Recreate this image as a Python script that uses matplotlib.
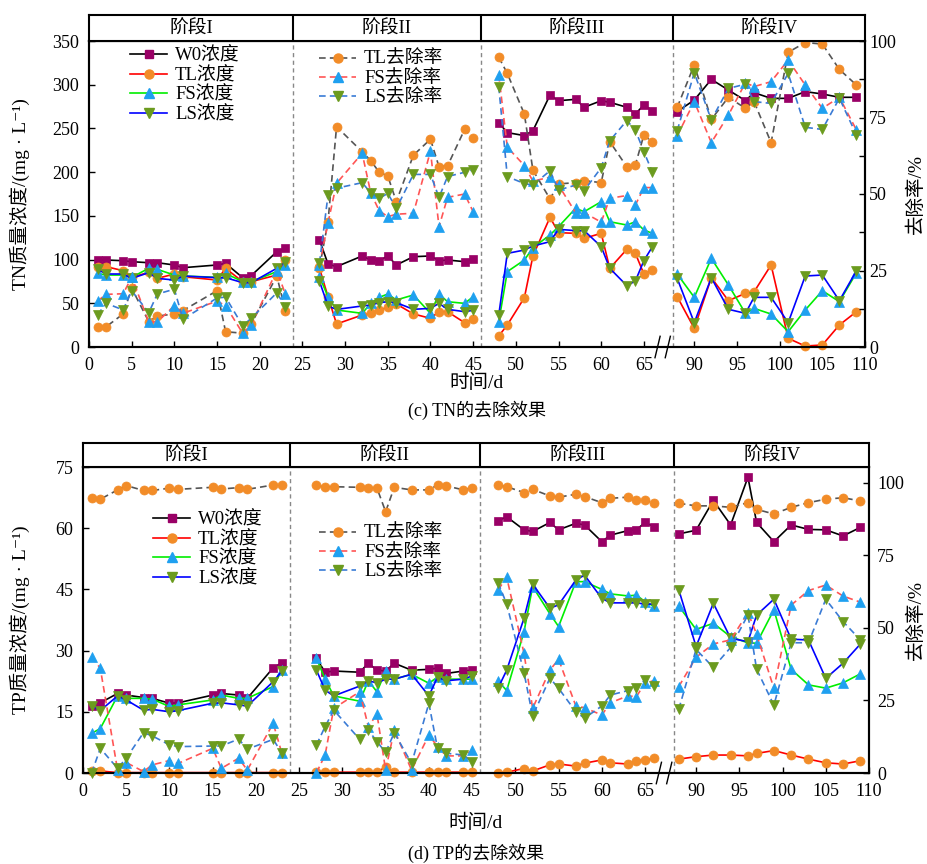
import matplotlib.pyplot as plt
from matplotlib.lines import Line2D
from matplotlib.ticker import MultipleLocator

plt.rcParams['font.family'] = ['Liberation Serif', 'Noto Sans CJK SC', 'DejaVu Sans']

# sampling days, four stages (14, 14, 14, 12 samples)
days = [1, 2, 4, 5, 7, 8, 10, 11, 15, 16, 18, 19, 22, 23,
        27, 28, 29, 32, 33, 34, 35, 36, 38, 40, 41, 42, 44, 45,
        48, 49, 51, 52, 54, 55, 57, 58, 60, 61, 63, 64, 65, 66,
        88, 90, 92, 94, 96, 97, 99, 101, 103, 105, 107, 109]
stage_sizes = [14, 14, 14, 12]
stage_names = ['阶段I', '阶段II', '阶段III', '阶段IV']
stage_edges = [23.9, 45.9, 87.5]
tick_days = list(range(0, 70, 5)) + list(range(90, 115, 5))

# ---- TN (mg/L) and removal (%) ----
tn_w0 = [99.5, 99.5, 98.7, 97.6, 96.4, 96.4, 93.8, 90.7, 93.8, 95.7, 79.3, 81.6, 109.0, 112.9,
         122.4, 94.9, 91.9, 104.1, 99.5, 98.7, 104.1, 93.8, 103.3, 104.1, 98.7, 99.5, 97.6, 100.6,
         256.6, 245.2, 241.8, 247.4, 288.2, 281.7, 283.3, 274.2, 281.7, 279.9, 274.2, 266.6, 276.8, 270.3,
         269.2, 282.5, 306.1, 293.9, 281.8, 290.9, 284.4, 284.4, 292.1, 289.4, 285.6, 285.6]
tn_tl = [91.9, 91.9, 87.3, 79.7, 85.4, 78.5, 83.5, 80.4, 76.6, 90.0, 74.7, 74.7, 82.3, 99.5,
         90.0, 57.5, 26.3, 36.6, 38.5, 42.3, 45.4, 49.2, 37.8, 32.8, 40.4, 40.4, 27.8, 31.6,
         12.6, 25.2, 56.4, 104.1, 148.3, 130.8, 130.0, 124.3, 130.0, 90.0, 111.7, 107.1, 83.5, 88.1,
         57.6, 21.3, 79.3, 53.0, 61.4, 63.0, 93.8, 9.9, 1.1, 2.3, 25.2, 40.4]
tn_fs = [84.2, 82.3, 82.3, 79.7, 90.0, 88.8, 82.3, 81.2, 79.7, 84.2, 74.7, 74.7, 86.2, 93.8,
         80.4, 57.5, 42.3, 38.5, 49.9, 56.8, 60.6, 53.8, 59.5, 38.5, 60.6, 51.8, 49.9, 57.5,
         29.0, 86.2, 99.5, 113.6, 128.1, 137.6, 158.6, 154.8, 166.2, 143.3, 139.5, 143.3, 133.8, 130.0,
         83.5, 56.8, 101.4, 70.9, 38.5, 44.2, 37.7, 17.5, 42.3, 64.4, 51.8, 85.0]
tn_ls = [88.8, 83.5, 83.5, 78.5, 85.0, 78.5, 76.6, 81.2, 79.3, 79.3, 73.6, 73.6, 90.0, 97.6,
         75.0, 46.9, 43.0, 46.9, 48.0, 50.7, 51.8, 50.7, 43.1, 44.2, 49.9, 43.1, 40.4, 42.0,
         36.6, 107.1, 110.9, 115.5, 120.5, 134.6, 133.1, 133.1, 114.8, 90.0, 70.2, 75.5, 98.8, 114.8,
         78.5, 27.8, 79.3, 43.1, 38.5, 56.8, 56.8, 27.8, 81.2, 82.3, 53.0, 87.3]
tn_tl_rm = [6.6, 6.6, 10.8, 19.2, 8.3, 10.1, 10.8, 11.9, 18.4, 5.0, 4.5, 7.5, 23.2, 11.9,
            26.0, 41.0, 72.0, 63.8, 60.9, 57.1, 55.9, 47.5, 62.7, 67.9, 58.9, 59.2, 71.1, 68.2,
            94.7, 89.4, 76.1, 57.8, 48.4, 53.3, 53.7, 54.4, 53.7, 67.1, 58.9, 59.5, 69.3, 66.9,
            78.3, 92.2, 74.4, 81.6, 78.0, 80.2, 66.8, 96.3, 99.5, 99.0, 90.7, 85.6]
tn_fs_rm = [15.0, 17.2, 17.4, 22.8, 8.2, 8.2, 13.5, 11.0, 15.0, 13.5, 4.5, 7.2, 25.0, 17.3,
            26.8, 40.6, 53.5, 63.3, 50.4, 44.5, 42.6, 43.4, 43.7, 64.0, 39.3, 48.9, 50.0, 44.2,
            88.9, 65.3, 59.3, 54.2, 55.5, 52.9, 43.9, 43.9, 40.8, 48.6, 49.5, 46.4, 52.1, 52.1,
            69.0, 80.2, 66.8, 75.8, 86.4, 85.1, 86.7, 93.8, 85.6, 78.0, 81.6, 70.9]
tn_ls_rm = [10.5, 14.3, 12.1, 18.4, 11.2, 17.3, 18.9, 9.1, 16.0, 16.3, 6.9, 9.4, 17.7, 13.2,
            27.5, 49.7, 51.9, 53.7, 50.4, 48.6, 50.2, 45.3, 56.4, 56.4, 48.9, 55.7, 57.1, 57.9,
            85.1, 55.7, 53.4, 52.9, 57.6, 51.3, 52.9, 51.1, 58.6, 67.4, 74.0, 70.9, 63.8, 57.1,
            70.7, 89.6, 74.2, 84.5, 85.9, 80.2, 79.6, 89.4, 71.8, 71.1, 81.3, 69.3]

# ---- TP (mg/L) and removal (%) ----
tp_w0 = [16.5, 17.2, 19.5, 19.1, 18.5, 18.3, 17.1, 17.2, 19.1, 19.5, 19.1, 18.3, 25.8, 27.0,
         28.1, 24.7, 25.0, 24.7, 26.9, 25.2, 25.0, 26.9, 25.2, 25.4, 25.7, 24.4, 25.0, 25.2,
         61.8, 62.8, 59.6, 59.2, 61.4, 59.6, 61.2, 60.8, 56.7, 58.3, 59.4, 59.6, 61.4, 60.4,
         58.6, 59.5, 66.8, 60.8, 72.5, 61.4, 56.7, 60.8, 59.7, 59.6, 58.1, 60.2]
tp_tl = [0.4, 0.5, 0.1, 0.1, 0.1, 0.1, 0.1, 0.1, 0.1, 0.1, 0.1, 0.1, 0.1, 0.1,
         0.2, 0.2, 0.2, 0.2, 0.2, 0.2, 1.5, 0.2, 0.2, 0.2, 0.2, 0.2, 0.2, 0.2,
         0.0, 0.2, 1.1, 0.5, 2.0, 2.2, 1.7, 2.4, 3.2, 2.5, 2.2, 3.0, 3.2, 3.6,
         3.4, 4.0, 4.4, 4.4, 4.2, 4.8, 5.5, 4.4, 3.4, 2.5, 2.2, 3.0]
tp_fs = [9.7, 10.9, 18.9, 18.3, 18.3, 18.1, 16.3, 16.7, 17.9, 19.1, 18.3, 18.3, 21.2, 25.2,
         28.1, 23.0, 18.9, 17.6, 22.6, 19.9, 25.0, 23.0, 24.2, 22.0, 23.5, 23.0, 23.0, 23.0,
         22.6, 20.2, 34.6, 45.7, 39.0, 35.9, 46.9, 46.9, 45.0, 43.9, 43.4, 43.6, 42.0, 40.9,
         40.9, 35.2, 36.7, 33.4, 31.9, 31.8, 40.0, 25.4, 21.6, 20.8, 22.1, 24.3]
tp_ls = [16.5, 15.3, 18.9, 17.9, 15.4, 15.6, 15.0, 15.3, 17.1, 17.2, 16.7, 16.4, 22.4, 25.0,
         25.2, 20.3, 18.9, 21.3, 22.6, 22.1, 23.0, 23.0, 24.2, 18.9, 23.5, 22.6, 23.0, 23.8,
         20.8, 25.2, 37.9, 46.3, 40.4, 41.2, 47.3, 48.5, 42.8, 41.7, 41.7, 41.7, 41.4, 41.4,
         44.9, 31.0, 41.6, 33.0, 32.2, 38.7, 42.6, 32.8, 32.6, 23.2, 26.9, 31.6]
tp_tl_rm = [94.7, 94.4, 97.6, 99.1, 97.4, 97.4, 98.2, 97.8, 98.5, 97.9, 98.4, 97.8, 99.3, 99.3,
            99.3, 98.5, 98.7, 98.5, 98.2, 98.2, 90.1, 98.5, 97.6, 97.6, 99.3, 99.0, 97.6, 98.4,
            99.3, 98.7, 96.7, 97.8, 95.5, 95.1, 96.1, 95.3, 93.2, 94.7, 95.1, 94.1, 94.1, 93.0,
            93.0, 92.1, 92.1, 91.6, 93.2, 90.9, 89.3, 91.6, 93.2, 94.4, 94.9, 93.8]
tp_fs_rm = [40.1, 36.1, 1.0, 3.6, 0.5, 2.8, 4.3, 3.3, 8.5, 1.6, 5.1, 1.0, 17.1, 6.8,
            0.1, 6.2, 22.3, 28.0, 16.0, 20.3, 1.0, 14.8, 1.0, 13.1, 9.1, 5.9, 5.9, 7.9,
            63.1, 67.5, 41.3, 22.3, 35.5, 39.2, 23.1, 22.5, 20.0, 24.2, 26.6, 26.3, 31.1, 31.8,
            29.8, 39.9, 44.5, 45.9, 55.3, 47.9, 29.2, 57.9, 62.9, 64.8, 61.0, 58.9]
tp_ls_rm = [0.0, 8.5, 1.6, 5.1, 13.9, 12.8, 9.7, 9.1, 9.3, 9.3, 11.7, 8.2, 11.6, 6.8,
            9.7, 16.0, 21.7, 11.6, 14.8, 10.8, 7.1, 13.9, 3.3, 24.0, 8.5, 6.8, 6.2, 3.9,
            65.6, 58.3, 34.6, 19.7, 32.7, 29.2, 21.1, 18.9, 23.1, 26.9, 28.4, 29.2, 32.1, 30.0,
            22.0, 42.6, 36.4, 43.3, 54.5, 35.8, 23.4, 44.9, 44.9, 59.9, 52.2, 45.9]

# broken time axis: days 67..85 are cut out
GAP = 19.1


def xpos(d):
    return d if d < 70 else d - GAP


X_MAX = xpos(110)
W = 928
H = 864

# colours
C_W0 = '#990066'
C_OR = '#F28C28'
C_CY = '#1FA0F0'
C_OL = '#6B9B1E'

conc_style = [  # label, line colour, marker, marker colour, marker size
    ('W0浓度', 'black', 's', C_W0, 5.5),
    ('TL浓度', 'red', 'o', C_OR, 6.5),
    ('FS浓度', '#00EE00', '^', C_CY, 7),
    ('LS浓度', 'blue', 'v', C_OL, 7),
]
rm_style = [
    ('TL去除率', '#555555', 'o', C_OR, 6.5),
    ('FS去除率', '#FF5555', '^', C_CY, 7),
    ('LS去除率', '#3A7BD5', 'v', C_OL, 7),
]


def stage_slices():
    i = 0
    for n in stage_sizes:
        yield slice(i, i + n)
        i += n


def draw_series(ax, y, style, dashed):
    label, lc, mk, mc, ms = style
    ls = (0, (4, 2.5)) if dashed else '-'
    xs = [xpos(d) for d in days]
    # each stage is its own line segment
    for s in stage_slices():
        ax.plot(xs[s], y[s], color=lc, lw=1.2, ls=ls,
                marker=mk, ms=ms, mfc=mc, mec=mc, mew=0.5, clip_on=False, zorder=3)
    return Line2D([], [], color=lc, lw=1.2, ls=ls,
                  marker=mk, ms=ms, mfc=mc, mec=mc, label=label)


def px_rect(l, t, r, b):
    return [l / W, 1 - b / H, (r - l) / W, (b - t) / H]


def add_legend(ax, handles, xy):
    return ax.legend(handles=handles, loc='upper left',
                     bbox_to_anchor=(xy[0] / W, 1 - xy[1] / H),
                     bbox_transform=fig.transFigure, frameon=False, fontsize=13.5,
                     borderpad=0, borderaxespad=0, labelspacing=0.12,
                     handlelength=2.0, handletextpad=0.4)


def draw_panel(box, head_box, conc, rm, ylim, ystep, rlim, rminor, ylabel, leg1, leg2,
               xlab_y, caption, cap_y, rpad):
    ax = fig.add_axes(px_rect(*box))
    ax2 = ax.twinx()
    ax.set_xlim(0, X_MAX)
    ax.set_ylim(*ylim)
    ax2.set_ylim(*rlim)
    ax.set_yticks(range(0, int(ylim[1]) + 1, ystep))
    ax2.set_yticks([0, 25, 50, 75, 100])
    if rminor:
        ax2.yaxis.set_minor_locator(MultipleLocator(12.5))
        ax2.tick_params(axis='y', which='minor', direction='in', length=4, width=1)
    ax.set_xticks([xpos(t) for t in tick_days])
    ax.set_xticklabels([str(t) for t in tick_days])
    ax.tick_params(direction='in', length=4, width=1, labelsize=13)
    ax.tick_params(axis='y', pad=7)
    ax.tick_params(axis='x', pad=7.5)
    ax2.tick_params(direction='in', length=4, width=1, labelsize=13, pad=rpad)
    for a in (ax, ax2):
        for sp in a.spines.values():
            sp.set_linewidth(1.5)

    # stage boundaries
    for e in stage_edges:
        ax.axvline(xpos(e), color='#888888', lw=1, ls=(0, (3, 2.5)), zorder=1)

    # axis break marks
    for bx in (66.6, 67.8):
        ax.plot([bx - 0.3, bx + 0.3], [-0.035, 0.035], color='black', lw=1,
                transform=ax.get_xaxis_transform(), clip_on=False)

    h1 = [draw_series(ax, y, st, False) for y, st in zip(conc, conc_style)]
    h2 = [draw_series(ax2, y, st, True) for y, st in zip(rm, rm_style)]

    ax2.add_artist(add_legend(ax2, h1, leg1))
    add_legend(ax2, h2, leg2)

    # stage header row
    hx = fig.add_axes(px_rect(*head_box))
    hx.set_xlim(0, X_MAX)
    hx.set_ylim(0, 1)
    hx.set_xticks([])
    hx.set_yticks([])
    for sp in hx.spines.values():
        sp.set_linewidth(1.5)
    edges = [0] + [xpos(e) for e in stage_edges] + [X_MAX]
    for e in edges[1:-1]:
        hx.axvline(e, color='black', lw=1.5)
    for name, a, b in zip(stage_names, edges[:-1], edges[1:]):
        hx.text((a + b) / 2, 0.45, name, ha='center', va='center', fontsize=13.5)

    cx = (box[0] + box[2]) / 2
    cy = 1 - (box[1] + box[3]) / 2 / H
    fig.text(20 / W, cy, ylabel, rotation=90, ha='center', va='center', fontsize=14)
    fig.text(916 / W, cy, '去除率/%', rotation=90, ha='center', va='center', fontsize=14)
    fig.text(cx / W, 1 - xlab_y / H, '时间/d', ha='center', va='center', fontsize=14)
    fig.text(cx / W, 1 - cap_y / H, caption, ha='center', va='center', fontsize=13)


fig = plt.figure(figsize=(W / 100, H / 100), dpi=100)

draw_panel((89, 41, 865, 347), (89, 15, 865, 41),
           [tn_w0, tn_tl, tn_fs, tn_ls], [tn_tl_rm, tn_fs_rm, tn_ls_rm],
           (0, 350), 50, (0, 100), True, 'TN质量浓度/(mg · L⁻¹)',
           (130, 47), (319, 51), 383, '(c) TN的去除效果', 410, 3)

draw_panel((83, 467, 869, 773), (83, 443, 869, 467),
           [tp_w0, tp_tl, tp_fs, tp_ls], [tp_tl_rm, tp_fs_rm, tp_ls_rm],
           (0, 75), 15, (0, 105.5), False, 'TP质量浓度/(mg · L⁻¹)',
           (153, 511), (319, 525), 823, '(d) TP的去除效果', 853, 6)

fig.savefig('out.png', dpi=100)
print('saved out.png')
